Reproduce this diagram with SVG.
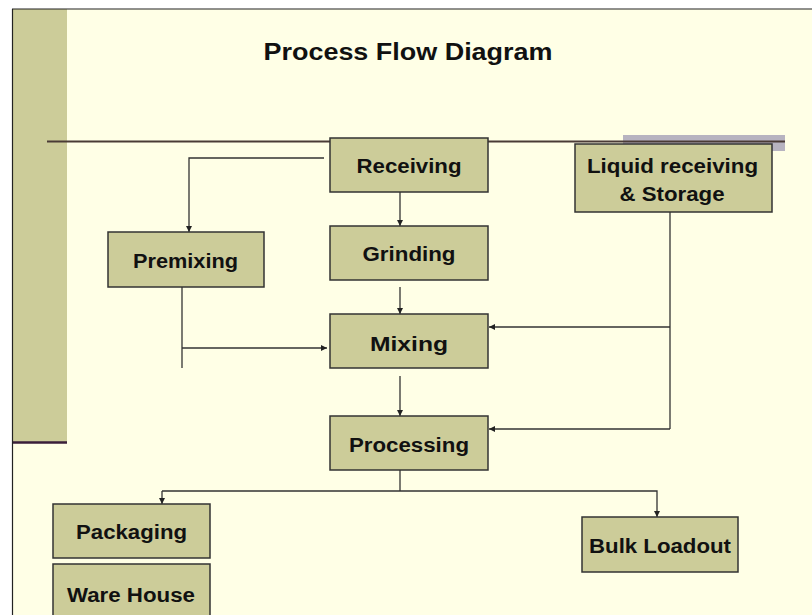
<svg xmlns="http://www.w3.org/2000/svg" width="812" height="615" viewBox="0 0 812 615">
<defs>
<marker id="ah" viewBox="0 0 10 10" refX="10" refY="5" markerWidth="6" markerHeight="6" orient="auto" markerUnits="userSpaceOnUse">
<path d="M0,0 L10,5 L0,10 z" fill="#222"/>
</marker>
<style>
.box{fill:#cccc99;stroke:#333;stroke-width:1.5}
.lbl{font-family:"Liberation Sans",Arial,sans-serif;font-weight:bold;font-size:20px;fill:#111;text-anchor:middle}
.ttl{font-family:"Liberation Sans",Arial,sans-serif;font-weight:bold;font-size:24px;fill:#111;text-anchor:middle}
.con{fill:none;stroke:#333;stroke-width:1.3}
.arr{marker-end:url(#ah)}
</style>
</defs>
<rect x="0" y="0" width="812" height="615" fill="#ffffff"/>
<rect x="13" y="9" width="799" height="606" fill="#ffffe6"/>
<rect x="13" y="9" width="54" height="433" fill="#cccc99"/>
<line x1="13" y1="442.5" x2="67" y2="442.5" stroke="#3a1f3a" stroke-width="2.5"/>
<line x1="12.5" y1="9" x2="12.5" y2="615" stroke="#222" stroke-width="1.2"/>
<line x1="12" y1="9" x2="812" y2="9" stroke="#222" stroke-width="1.2"/>
<rect x="623" y="135" width="162" height="16" fill="#b7b3c0"/>
<line x1="47" y1="141.5" x2="785" y2="141.5" stroke="#4a3b36" stroke-width="2"/>
<text class="ttl" x="408" y="60" textLength="289" lengthAdjust="spacingAndGlyphs">Process Flow Diagram</text>
<g id="connectors">
<path class="con arr" d="M324,158 H189 V232"/>
<path class="con arr" d="M400,192 V226"/>
<path class="con" d="M182,287 V368"/>
<path class="con arr" d="M182,348 H327"/>
<path class="con arr" d="M400,287 V314"/>
<path class="con arr" d="M400,376 V416"/>
<path class="con" d="M670,212 V429"/>
<path class="con arr" d="M670,327 H489"/>
<path class="con arr" d="M670,429 H489"/>
<path class="con" d="M400,470 V491"/>
<path class="con arr" d="M162,491 V504"/>
<path class="con arr" d="M162,491 H657 V517"/>
</g>
<g id="receiving">
<rect class="box" x="330" y="138" width="158" height="54"/>
<text class="lbl" x="409" y="173" textLength="105" lengthAdjust="spacingAndGlyphs">Receiving</text>
</g>
<g id="grinding">
<rect class="box" x="330" y="226" width="158" height="54"/>
<text class="lbl" x="409" y="261" textLength="93" lengthAdjust="spacingAndGlyphs">Grinding</text>
</g>
<g id="premixing">
<rect class="box" x="108" y="232" width="156" height="55"/>
<text class="lbl" x="185.5" y="268" textLength="105" lengthAdjust="spacingAndGlyphs">Premixing</text>
</g>
<g id="liquid">
<rect class="box" x="575" y="144" width="197" height="68"/>
<text class="lbl" x="672.5" y="173" textLength="171" lengthAdjust="spacingAndGlyphs">Liquid receiving</text>
<text class="lbl" x="672" y="201" textLength="105" lengthAdjust="spacingAndGlyphs">&amp; Storage</text>
</g>
<g id="mixing">
<rect class="box" x="330" y="314" width="158" height="54"/>
<text class="lbl" x="409" y="350.5" textLength="78" lengthAdjust="spacingAndGlyphs">Mixing</text>
</g>
<g id="processing">
<rect class="box" x="330" y="416" width="158" height="54"/>
<text class="lbl" x="409" y="451.5" textLength="120" lengthAdjust="spacingAndGlyphs">Processing</text>
</g>
<g id="packaging">
<rect class="box" x="53" y="504" width="157" height="54"/>
<text class="lbl" x="131.5" y="539" textLength="111" lengthAdjust="spacingAndGlyphs">Packaging</text>
</g>
<g id="warehouse">
<rect class="box" x="53" y="564" width="157" height="60"/>
<text class="lbl" x="131" y="601.5" textLength="128" lengthAdjust="spacingAndGlyphs">Ware House</text>
</g>
<g id="bulkloadout">
<rect class="box" x="582" y="517" width="156" height="55"/>
<text class="lbl" x="660" y="553" textLength="142" lengthAdjust="spacingAndGlyphs">Bulk Loadout</text>
</g>
</svg>
